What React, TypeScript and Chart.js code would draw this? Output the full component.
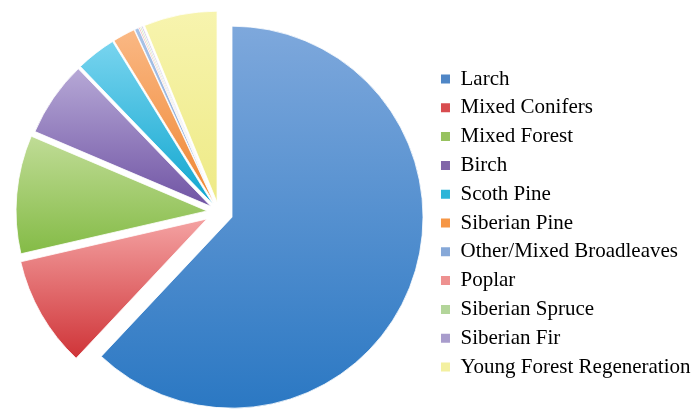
import React, { useEffect, useRef } from "react";
import { Chart, registerables } from "chart.js";

Chart.register(...registerables);

const CATEGORIES = [
  "Larch",
  "Mixed Conifers",
  "Mixed Forest",
  "Birch",
  "Scoth Pine",
  "Siberian Pine",
  "Other/Mixed Broadleaves",
  "Poplar",
  "Siberian Spruce",
  "Siberian Fir",
  "Young Forest Regeneration",
];

const SHARES = [62.0, 9.4, 10.0, 6.4, 3.4, 1.9, 0.35, 0.12, 0.12, 0.11, 6.2];

const LEGEND_COLORS = [
  "#4f86c6",
  "#d84c4f",
  "#97c25f",
  "#8166a8",
  "#2cb5d8",
  "#f69645",
  "#86a8d8",
  "#ee9190",
  "#b3d59a",
  "#a89ccc",
  "#f3f0a0",
];

const LIGHT_COLORS = [
  "#7ea8dc",
  "#f4a2a2",
  "#c0dc96",
  "#b6a8d6",
  "#78d4ef",
  "#fab884",
  "#a8c2e6",
  "#f4aaaa",
  "#c8e2b0",
  "#c4b8e0",
  "#f7f4ae",
];

const DARK_COLORS = [
  "#2b78c3",
  "#cf3438",
  "#84bb46",
  "#7054a4",
  "#10a6cf",
  "#ef8632",
  "#86a8d8",
  "#ec8888",
  "#a8d08a",
  "#a092c8",
  "#eeea86",
];

const EXPLODE = [14, 14, 12, 10, 10, 10, 10, 10, 10, 10, 10];
const RADIUS = 191;

const explodePlugin = {
  id: "explodeSlices",
  afterDatasetsUpdate(chart: any) {
    const meta = chart.getDatasetMeta(0);
    meta.data.forEach((arc: any, i: number) => {
      const mid = (arc.startAngle + arc.endAngle) / 2;
      const d = EXPLODE[i] || 0;
      arc.x += Math.cos(mid) * d;
      arc.y += Math.sin(mid) * d;
    });
  },
};

function sliceGradient(ctx: any) {
  const chart = ctx.chart;
  const i = ctx.dataIndex;
  const area = chart.chartArea;
  if (!area || i === undefined) return LEGEND_COLORS[i || 0];
  const cy = (area.top + area.bottom) / 2;
  const total = SHARES.reduce((a, b) => a + b, 0);
  let cum = 0;
  for (let k = 0; k < i; k++) cum += SHARES[k];
  const a0 = -Math.PI / 2 + (cum / total) * 2 * Math.PI;
  const a1 = a0 + (SHARES[i] / total) * 2 * Math.PI;
  const mid = (a0 + a1) / 2;
  const oy = cy + Math.sin(mid) * EXPLODE[i];
  let yMin = oy;
  let yMax = oy;
  for (let s = 0; s <= 48; s++) {
    const a = a0 + ((a1 - a0) * s) / 48;
    const y = oy + Math.sin(a) * RADIUS;
    yMin = Math.min(yMin, y);
    yMax = Math.max(yMax, y);
  }
  if (yMax - yMin < 1) yMax = yMin + 1;
  const g = chart.ctx.createLinearGradient(0, yMin, 0, yMax);
  g.addColorStop(0, LIGHT_COLORS[i]);
  g.addColorStop(1, DARK_COLORS[i]);
  return g;
}

export default function App() {
  const canvasRef = useRef<HTMLCanvasElement | null>(null);

  useEffect(() => {
    const canvas = canvasRef.current;
    if (!canvas) return;
    const chart = new Chart(canvas, {
      type: "pie",
      data: {
        labels: CATEGORIES,
        datasets: [
          {
            data: SHARES,
            backgroundColor: sliceGradient,
            borderColor: "#ffffff",
            borderWidth: 0.8,
            radius: RADIUS,
          } as any,
        ],
      },
      options: {
        responsive: false,
        animation: false,
        events: [],
        layout: {
          padding: { left: 4.8, right: -6.5, top: 38.7, bottom: 24.7 },
        },
        plugins: {
          tooltip: { enabled: false },
          title: { display: false },
          legend: {
            display: true,
            position: "right",
            align: "end",
            labels: {
              boxWidth: 9,
              boxHeight: 9,
              padding: 7.8,
              color: "#000000",
              font: { family: "'Liberation Serif', serif", size: 21 },
              generateLabels: () =>
                CATEGORIES.map((text, i) => ({
                  text,
                  fillStyle: LEGEND_COLORS[i],
                  strokeStyle: LEGEND_COLORS[i],
                  lineWidth: 0,
                  hidden: false,
                  index: i,
                  datasetIndex: 0,
                  fontColor: "#000000",
                })),
            },
          },
        },
      },
      plugins: [explodePlugin],
    });
    return () => chart.destroy();
  }, []);

  return (
    <div
      style={{
        position: "fixed",
        left: 0,
        top: 0,
        width: 694,
        height: 410,
        background: "#ffffff",
      }}
    >
      <canvas ref={canvasRef} width={694} height={410} style={{ display: "block" }} />
    </div>
  );
}
